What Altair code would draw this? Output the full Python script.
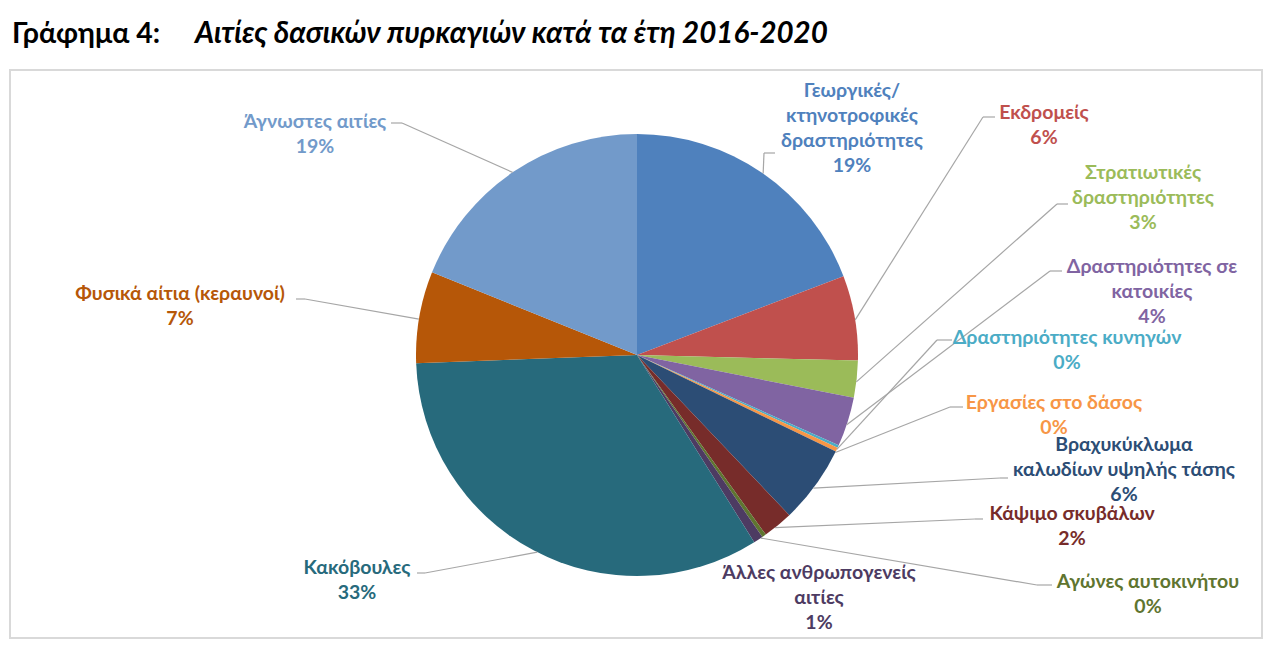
import altair as alt
import pandas as pd


'''
Data: causes of forest fires 2016-2020 (share of fires, %)
'''
causes = [
  'Γεωργικές/|κτηνοτροφικές|δραστηριότητες',
  'Εκδρομείς',
  'Στρατιωτικές|δραστηριότητες',
  'Δραστηριότητες σε|κατοικίες',
  'Δραστηριότητες κυνηγών',
  'Εργασίες στο δάσος',
  'Βραχυκύκλωμα|καλωδίων υψηλής τάσης',
  'Κάψιμο σκυβάλων',
  'Αγώνες αυτοκινήτου',
  'Άλλες ανθρωπογενείς|αιτίες',
  'Κακόβουλες',
  'Φυσικά αίτια (κεραυνοί)',
  'Άγνωστες αιτίες'
]
shares = [19.2, 6.2, 2.7, 3.6, 0.2, 0.3, 5.7, 2.2, 0.3, 0.7, 33.3, 6.7, 18.9]

palette = [
  '#4F81BD', '#C0504D', '#9BBB59', '#8064A2', '#4BACC6', '#F79646',
  '#2C4D75', '#772C2A', '#5F7530', '#4D3B62', '#276A7C', '#B65708', '#729ACA'
]

'''
Label layout (page pixels): label centre, leader knee and leader end
'''
label_x = [852, 1044, 1143, 1152, 1067, 1054, 1124, 1072, 1148, 819, 357, 180, 315]
label_y = [91, 113, 173, 267, 338, 403, 445, 514, 582, 573, 568, 294, 122]
knee_x = [764, 983, 1057, 1050, 937, 950, 1000, 975, 1037, None, 425, 305, 402]
knee_y = [153, 117, 204, 271, 340, 407, 478, 519, 585, None, 573, 299, 123]
end_x = [775, 995, 1068, 1062, 952, 963, 1008, 983, 1052, None, 417, 296, 391]

# frame of the plot area on the page and the pie geometry
X0, X1, Y0, Y1 = 10, 1262, 70, 638
CX, CY, R = 637, 355, 221

df = pd.DataFrame({
  'idx': range(len(causes)),
  'cause': causes,
  'share': shares,
  'lx': label_x,
  'ly': label_y,
  'kx': knee_x,
  'ky': knee_y,
  'ex': end_x,
})

xs = alt.Scale(domain=[X0, X1], nice=False, zero=False)
ys = alt.Scale(domain=[Y1, Y0], nice=False, zero=False)
colors = alt.Scale(domain=causes, range=palette)

base = alt.Chart(df)

pie = base.mark_arc(outerRadius=R, x=CX - X0, y=CY - Y0).encode(
  theta=alt.Theta('share:Q', stack=True),
  order=alt.Order('idx:Q'),
  color=alt.Color('cause:N', scale=colors, legend=None)
)

# leader start = slice mid-angle on the pie edge
leaders = base.transform_filter(
  'isValid(datum.kx)'
).transform_joinaggregate(
  total='sum(share)'
).transform_window(
  cum='sum(share)',
  sort=[alt.SortField('idx')],
  frame=[None, 0]
).transform_calculate(
  mid='2 * PI * (datum.cum - datum.share / 2) / datum.total',
  sx=f'{CX} + {R} * sin(datum.mid)',
  sy=f'{CY} - {R} * cos(datum.mid)'
)

leader_long = leaders.mark_rule(color='#A6A6A6', strokeWidth=1.2).encode(
  x=alt.X('sx:Q', scale=xs, axis=None),
  y=alt.Y('sy:Q', scale=ys, axis=None),
  x2='kx:Q',
  y2='ky:Q'
)

leader_short = leaders.mark_rule(color='#A6A6A6', strokeWidth=1.2).encode(
  x=alt.X('kx:Q', scale=xs, axis=None),
  y=alt.Y('ky:Q', scale=ys, axis=None),
  x2='ex:Q'
)

labels = base.transform_joinaggregate(
  total='sum(share)'
).transform_calculate(
  lines="split(datum.cause + '|' + format(round(100 * datum.share / datum.total), 'd') + '%', '|')"
).mark_text(
  align='center', baseline='middle', font='Lato', fontWeight='bold',
  fontSize=19.5, lineHeight=25
).encode(
  x=alt.X('lx:Q', scale=xs, axis=None),
  y=alt.Y('ly:Q', scale=ys, axis=None),
  text='lines:N',
  color=alt.Color('cause:N', scale=colors, legend=None)
)

title_df = pd.DataFrame({
  'tx': [12, 195],
  'ty': [43, 43],
  'part': ['Γράφημα 4:', 'Αιτίες δασικών πυρκαγιών κατά τα έτη 2016-2020'],
  'style': ['normal', 'italic'],
})

title_plain = alt.Chart(title_df).transform_filter(
  alt.datum.style == 'normal'
).mark_text(
  align='left', baseline='alphabetic', font='Lato', fontWeight='bold',
  fontSize=28.5, color='black'
).encode(
  x=alt.X('tx:Q', scale=xs, axis=None),
  y=alt.Y('ty:Q', scale=ys, axis=None),
  text='part:N'
)

title_italic = alt.Chart(title_df).transform_filter(
  alt.datum.style == 'italic'
).mark_text(
  align='left', baseline='alphabetic', font='Lato', fontWeight='bold',
  fontStyle='italic', fontSize=29.5, color='black'
).encode(
  x=alt.X('tx:Q', scale=xs, axis=None),
  y=alt.Y('ty:Q', scale=ys, axis=None),
  text='part:N'
)

chart = alt.layer(
  pie, leader_long, leader_short, labels, title_plain, title_italic
).properties(
  width=X1 - X0,
  height=Y1 - Y0,
  padding={'left': 2, 'top': 62, 'right': 10, 'bottom': 4},
  autosize=alt.AutoSizeParams(type='none')
).configure_view(
  stroke='#D9D9D9',
  strokeWidth=2
)

chart.save('out.html', embed_options={'renderer': 'svg', 'actions': False})
